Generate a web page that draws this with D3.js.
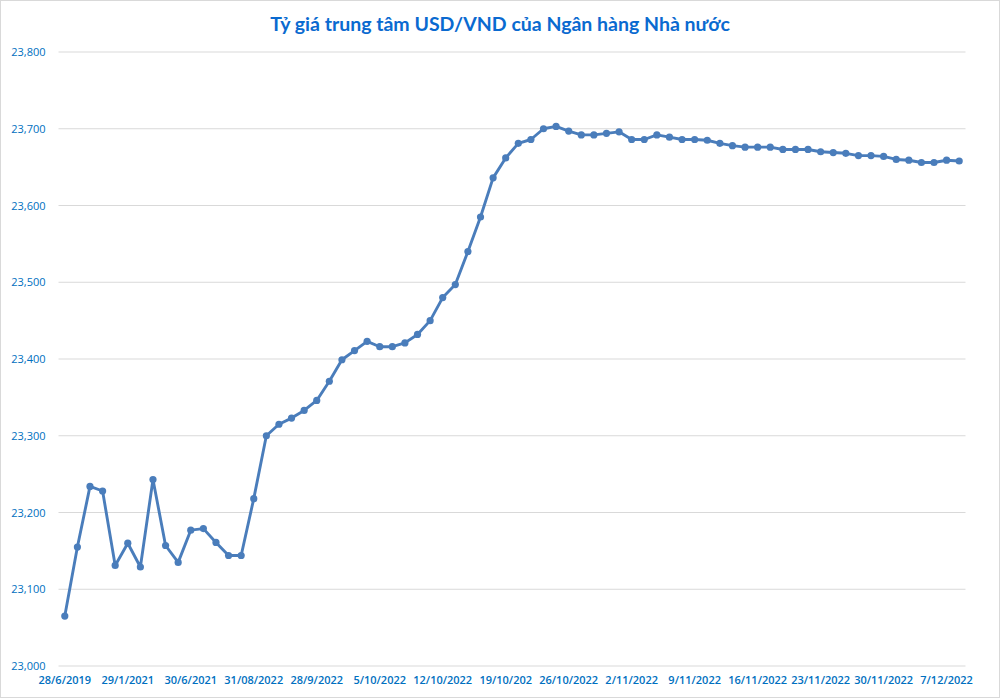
<!DOCTYPE html>
<html><head><meta charset="utf-8">
<script src="https://cdn.jsdelivr.net/npm/d3@7"></script>
<style>
html,body{margin:0;padding:0;background:#fff;}
svg{display:block;}
</style></head>
<body>
<svg id="chart" width="1000" height="698"></svg>
<script>
const title = "Tỷ giá trung tâm USD/VND của Ngân hàng Nhà nước";
const tickLabels = ["28/6/2019","29/1/2021","30/6/2021","31/08/2022","28/9/2022","5/10/2022","12/10/2022","19/10/202","26/10/2022","2/11/2022","9/11/2022","16/11/2022","23/11/2022","30/11/2022","7/12/2022"];
const tickEvery = 5;
const rates = [23065,23155,23234,23228,23131,23160,23129,23243,23157,23135,
23177,23179,23161,23144,23144,23218,23300,23315,23323,23333,
23346,23371,23399,23411,23423,23416,23416,23421,23432,23450,
23480,23497,23540,23585,23636,23662,23681,23686,23700,23703,
23697,23692,23692,23694,23696,23686,23686,23692,23689,23686,
23686,23685,23681,23678,23676,23676,23676,23673,23673,23673,
23670,23669,23668,23665,23665,23664,23660,23659,23656,23656,
23659,23658];
const yTicks = [23000,23100,23200,23300,23400,23500,23600,23700,23800];

const svg = d3.select("#chart");
const W = 1000, H = 698;
const m = {left:58.5, right:34.5, top:52, bottom:32};

svg.append("rect").attr("x",0.5).attr("y",0.5).attr("width",W-1).attr("height",H-1)
  .attr("fill","#fff").attr("stroke","#d9d9d9");

const x = d3.scaleBand().domain(d3.range(rates.length)).range([m.left, W-m.right]);
const y = d3.scaleLinear().domain([23000,23800]).range([H-m.bottom, m.top]);

const grid = svg.append("g");
grid.selectAll("line").data(yTicks).join("line")
  .attr("x1",m.left).attr("x2",W-m.right)
  .attr("y1",d=>y(d)).attr("y2",d=>y(d))
  .attr("stroke","#d9d9d9").attr("stroke-width",1);

const yAxis = svg.append("g").attr("transform",`translate(${m.left},0)`)
  .call(d3.axisLeft(y).tickValues(yTicks).tickSize(0).tickPadding(13).tickFormat(d3.format(",")));
yAxis.select(".domain").remove();
yAxis.selectAll("text").attr("fill","#0070c0").attr("font-family","'Open Sans', sans-serif").attr("font-size","11px");

const xAxis = svg.append("g").attr("transform",`translate(0,${H-m.bottom})`)
  .call(d3.axisBottom(x).tickValues(d3.range(0,rates.length,tickEvery)).tickSize(0).tickPadding(10)
    .tickFormat(i=>tickLabels[i/tickEvery]));
xAxis.select(".domain").remove();
xAxis.selectAll("text").attr("fill","#0070c0").attr("font-family","'Open Sans', sans-serif")
  .attr("font-size","11px").attr("font-weight","600");

const cx = i => x(i) + x.bandwidth()/2;
const line = d3.line().x((d,i)=>cx(i)).y(d=>y(d));
svg.append("path").datum(rates).attr("d",line)
  .attr("fill","none").attr("stroke","#4a7dbb").attr("stroke-width",2.9).attr("stroke-linejoin","round");
svg.append("g").selectAll("circle").data(rates).join("circle")
  .attr("cx",(d,i)=>cx(i)).attr("cy",d=>y(d)).attr("r",3.6).attr("fill","#4a7dbb");

svg.append("text").attr("x",500).attr("y",31).attr("text-anchor","middle")
  .attr("fill","#0a6ad0").attr("font-family","Lato, sans-serif").attr("font-weight","bold")
  .attr("font-size","19.5px").text(title);
</script>
</body></html>
